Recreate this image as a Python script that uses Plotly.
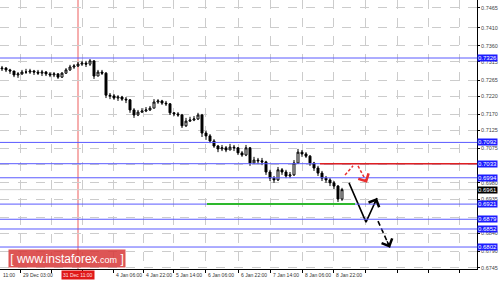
import plotly.graph_objects as go

# ---------------- data ----------------
closes = [0.7298, 0.7293, 0.7290, 0.7279, 0.7282, 0.7287, 0.7287, 0.7290, 0.7287, 0.7284,
          0.7287, 0.7282, 0.7279, 0.7282, 0.7273, 0.7284, 0.7293, 0.7301, 0.7304, 0.7309,
          0.7312, 0.7309, 0.7318, 0.7276, 0.7287, 0.7284, 0.7223, 0.7221, 0.7215, 0.7218,
          0.7212, 0.7210, 0.7182, 0.7168, 0.7176, 0.7179, 0.7182, 0.7187, 0.7204, 0.7207,
          0.7201, 0.7199, 0.7174, 0.7171, 0.7168, 0.7138, 0.7151, 0.7154, 0.7157, 0.7168,
          0.7118, 0.7110, 0.7096, 0.7082, 0.7074, 0.7077, 0.7071, 0.7079, 0.7077, 0.7063,
          0.7057, 0.7077, 0.7035, 0.7043, 0.7041, 0.7038, 0.7010, 0.6993, 0.6988, 0.7016,
          0.7010, 0.6999, 0.7002, 0.7035, 0.7065, 0.7060, 0.7054, 0.7035, 0.7021, 0.7007,
          0.6993, 0.6988, 0.6980, 0.6971, 0.6935, 0.6961]
highs = [0.7304, 0.7301, 0.7296, 0.7290, 0.7287, 0.7293, 0.7296, 0.7296, 0.7293, 0.7293,
         0.7293, 0.7290, 0.7287, 0.7287, 0.7284, 0.7287, 0.7298, 0.7307, 0.7309, 0.7315,
         0.7318, 0.7318, 0.7323, 0.7320, 0.7293, 0.7293, 0.7287, 0.7229, 0.7226, 0.7223,
         0.7221, 0.7218, 0.7212, 0.7187, 0.7182, 0.7187, 0.7190, 0.7193, 0.7212, 0.7212,
         0.7210, 0.7207, 0.7201, 0.7176, 0.7176, 0.7171, 0.7160, 0.7163, 0.7165, 0.7174,
         0.7171, 0.7124, 0.7115, 0.7101, 0.7085, 0.7085, 0.7082, 0.7088, 0.7085, 0.7079,
         0.7068, 0.7085, 0.7079, 0.7052, 0.7049, 0.7049, 0.7041, 0.7016, 0.6999, 0.7024,
         0.7021, 0.7016, 0.7010, 0.7043, 0.7074, 0.7071, 0.7065, 0.7057, 0.7038, 0.7027,
         0.7013, 0.6999, 0.6993, 0.6985, 0.6974, 0.6966]
lows = [0.7290, 0.7287, 0.7282, 0.7273, 0.7271, 0.7279, 0.7282, 0.7282, 0.7279, 0.7279,
        0.7276, 0.7276, 0.7273, 0.7273, 0.7268, 0.7271, 0.7282, 0.7290, 0.7296, 0.7301,
        0.7304, 0.7301, 0.7304, 0.7268, 0.7276, 0.7279, 0.7215, 0.7212, 0.7210, 0.7207,
        0.7207, 0.7201, 0.7174, 0.7160, 0.7165, 0.7174, 0.7176, 0.7179, 0.7187, 0.7199,
        0.7196, 0.7193, 0.7168, 0.7165, 0.7163, 0.7132, 0.7135, 0.7149, 0.7151, 0.7154,
        0.7107, 0.7099, 0.7090, 0.7077, 0.7065, 0.7068, 0.7065, 0.7071, 0.7068, 0.7057,
        0.7052, 0.7054, 0.7027, 0.7032, 0.7032, 0.7029, 0.7002, 0.6985, 0.6980, 0.6985,
        0.7002, 0.6993, 0.6993, 0.6999, 0.7032, 0.7052, 0.7049, 0.7027, 0.7013, 0.6999,
        0.6985, 0.6980, 0.6971, 0.6963, 0.6927, 0.6930]
first_open = 0.7296
opens = [first_open] + closes[:-1]
bars = list(range(len(closes)))

# time axis labels (bar positions)
time_tick_pos = [-3.25, 4.5, 12.25, 20, 27.75, 35.25, 42.75, 50.75, 59, 67, 75, 82.75, 90.75, 98.75, 106.5, 114.25]
time_tick_text = ["11:00", "29 Dec 03:00", "", "", "4 Jan 06:00", "4 Jan 22:00", "5 Jan 14:00",
                  "6 Jan 06:00", "6 Jan 22:00", "7 Jan 14:00", "8 Jan 06:00", "8 Jan 22:00", "", "", "", ""]

price_ticks = [0.7465, 0.7410, 0.7360, 0.7315, 0.7265, 0.7220, 0.7170, 0.7125, 0.7075,
               0.7030, 0.6980, 0.6935, 0.6885, 0.6840, 0.6790, 0.6745]
hidden_price_ticks = [0.7030, 0.6885]   # covered by level labels in the original

levels = [0.7326, 0.7092, 0.7033, 0.6994, 0.6921, 0.6879, 0.6852, 0.6802]
current_price = 0.6961
red_level = 0.7033
red_level_start = 79.5
green_level = 0.6921
green_span = [51.25, 88.25]
vline_bar = 19
vline_label = "31 Dec 11:00"

# forecast arrows
red_path1_x = [85.75, 87.75]
red_path1_y = [0.7002, 0.7027]
red_path2_x = [89.0, 91.25]
red_path2_y = [0.7027, 0.6980]
black_path_x = [86.75, 91.0, 93.75]
black_path_y = [0.6980, 0.6871, 0.6938]
black_dash_x = [94.0, 97.0]
black_dash_y = [0.6874, 0.6800]

x_range = [-0.5, 118.75]
y_range = [0.67411, 0.74868]

FONT = "Liberation Sans"

# ---------------- figure ----------------
fig = go.Figure()

fig.add_trace(go.Candlestick(
    x=bars, open=opens, high=highs, low=lows, close=closes,
    increasing=dict(line=dict(color="black", width=1), fillcolor="white"),
    decreasing=dict(line=dict(color="black", width=1), fillcolor="black"),
    whiskerwidth=0, showlegend=False, hoverinfo="skip"))

shapes = []
shapes.append(dict(type="line", xref="x", yref="paper", x0=vline_bar, x1=vline_bar, y0=0, y1=1,
                   line=dict(color="rgba(240,120,120,0.6)", width=2), layer="below"))
shapes.append(dict(type="line", xref="paper", yref="y", x0=0, x1=1, y0=current_price, y1=current_price,
                   line=dict(color="#d0d0d0", width=1), layer="below"))
for lv in levels:
    shapes.append(dict(type="line", xref="paper", yref="y", x0=0, x1=1, y0=lv, y1=lv,
                       line=dict(color="#5a5aff", width=1)))
shapes.append(dict(type="line", xref="x", yref="y", x0=red_level_start, x1=x_range[1], y0=red_level, y1=red_level,
                   line=dict(color="#e02020", width=1.5)))
shapes.append(dict(type="line", xref="x", yref="y", x0=green_span[0], x1=green_span[1], y0=green_level, y1=green_level,
                   line=dict(color="#2db82d", width=2)))
fig.update_layout(shapes=shapes)

fig.add_trace(go.Scatter(x=red_path1_x, y=red_path1_y, mode="lines",
                         line=dict(color="#e83030", width=1.5, dash="3px,2px"), showlegend=False, hoverinfo="skip"))
fig.add_trace(go.Scatter(x=red_path2_x, y=red_path2_y, mode="lines",
                         line=dict(color="#e83030", width=1.5, dash="3px,2px"), showlegend=False, hoverinfo="skip"))
fig.add_trace(go.Scatter(x=black_path_x, y=black_path_y, mode="lines",
                         line=dict(color="black", width=1.6), showlegend=False, hoverinfo="skip"))
fig.add_trace(go.Scatter(x=black_dash_x, y=black_dash_y, mode="lines",
                         line=dict(color="black", width=1.6, dash="5px,3px"), showlegend=False, hoverinfo="skip"))

annotations = []

def head(xs, ys, color):
    x1, y1 = xs[-1], ys[-1]
    x0, y0 = xs[-2], ys[-2]
    fx = x1 - (x1 - x0) * 0.3
    fy = y1 - (y1 - y0) * 0.3
    return dict(x=x1, y=y1, ax=fx, ay=fy, xref="x", yref="y", axref="x", ayref="y",
                text="", showarrow=True, arrowhead=4, arrowsize=1.6, arrowwidth=1.4,
                arrowcolor=color)

annotations.append(head(red_path2_x, red_path2_y, "#e83030"))
annotations.append(head(black_path_x, black_path_y, "black"))
annotations.append(head(black_dash_x, black_dash_y, "black"))

for lv in levels:
    annotations.append(dict(xref="paper", yref="y", x=1, y=lv, xanchor="left", yanchor="middle",
                            xshift=0, text=f"{lv:.4f}", showarrow=False, bgcolor="#1c1cff",
                            font=dict(color="white", size=6, family=FONT), borderpad=0))
annotations.append(dict(xref="paper", yref="y", x=1, y=current_price, xanchor="left", yanchor="middle",
                        xshift=0, text=f"{current_price:.4f}", showarrow=False, bgcolor="black",
                        font=dict(color="white", size=6, family=FONT), borderpad=0))

span = x_range[1] - x_range[0]
for pos, txt in zip(time_tick_pos, time_tick_text):
    if txt:
        annotations.append(dict(xref="paper", yref="paper", x=max((pos - x_range[0]) / span, 0), y=0,
                                xanchor="left", yanchor="top",
                                xshift=1, yshift=-1, text=txt, showarrow=False,
                                font=dict(color="#333333", size=5, family=FONT)))

annotations.append(dict(xref="x", yref="paper", x=vline_bar, y=0, xanchor="center", yanchor="top",
                        yshift=-1, text=vline_label, showarrow=False, bgcolor="#e01818",
                        font=dict(color="#ffe0e0", size=5, family=FONT), borderpad=1))

annotations.append(dict(xref="paper", yref="paper", x=8 / 477, y=(269 - 268) / 269,
                        xanchor="left", yanchor="bottom", width=114, height=15,
                        text="[ www.instaforex<span style='font-size:9px'>.com</span> ]",
                        showarrow=False, bgcolor="rgba(215,55,55,0.85)",
                        font=dict(color="white", size=12, family=FONT), borderpad=1))

fig.update_layout(
    annotations=annotations,
    width=500, height=282,
    margin=dict(l=0, r=23, t=0, b=13),
    paper_bgcolor="white", plot_bgcolor="white",
    showlegend=False,
    xaxis=dict(range=x_range, rangeslider=dict(visible=False), tickvals=time_tick_pos,
               showticklabels=False, ticks="outside", ticklen=3, tickcolor="black",
               showgrid=True, gridcolor="#cccccc", griddash="dash", gridwidth=1,
               showline=True, linecolor="black", linewidth=1, zeroline=False, fixedrange=True),
    yaxis=dict(range=y_range, side="right", tickvals=price_ticks,
               ticktext=["" if v in hidden_price_ticks else f"{v:.4f}" for v in price_ticks],
               tickfont=dict(size=5.5, color="#444444", family=FONT),
               ticks="outside", ticklen=2, tickcolor="black",
               showgrid=True, gridcolor="#cccccc", griddash="dash", gridwidth=1,
               showline=True, linecolor="black", linewidth=1, zeroline=False, fixedrange=True),
)

fig.write_html("out.html", config={"displayModeBar": False})
